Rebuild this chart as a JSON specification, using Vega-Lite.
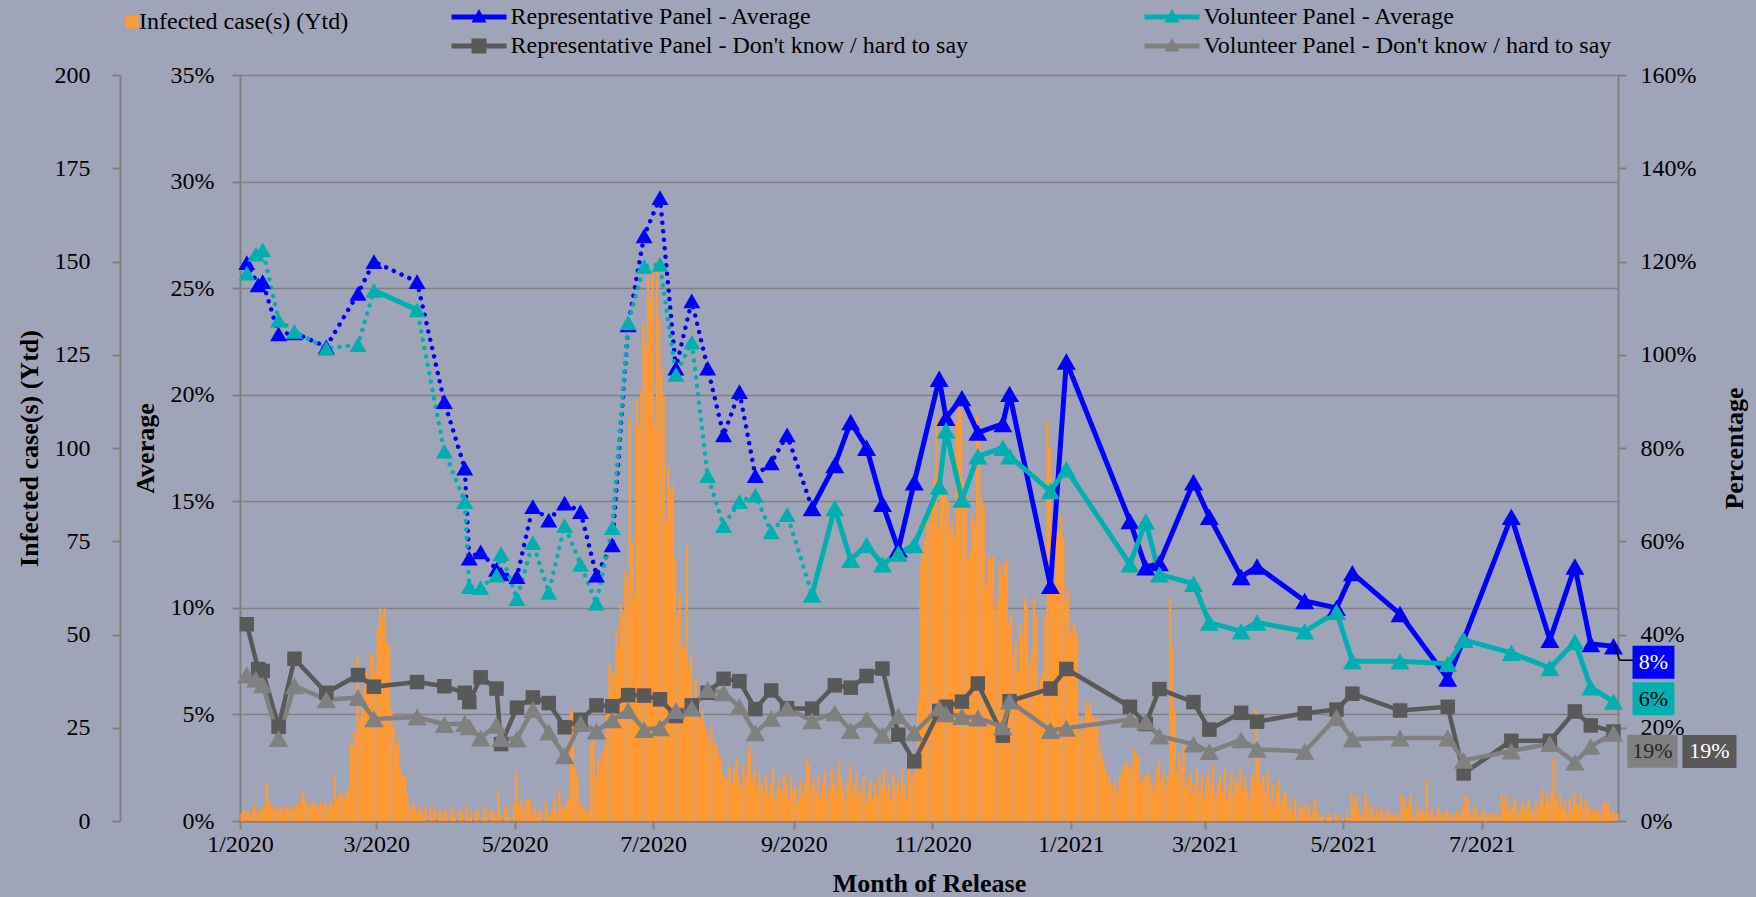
{
"$schema": "https://vega.github.io/schema/vega-lite/v6.json",
"width": 1378,
"height": 746,
"autosize": {"type": "none"},
"padding": {"left": 240, "top": 75, "right": 138, "bottom": 76},
"background": "#A0A4B8",
"config": {
  "view": {"stroke": null},
  "font": "Liberation Serif",
  "axis": {"labelFont": "Liberation Serif", "titleFont": "Liberation Serif", "labelFontSize": 24, "titleFontSize": 26, "labelColor": "#000000", "titleColor": "#000000", "domainColor": "#808080", "domainWidth": 2, "tickColor": "#808080", "tickWidth": 2, "tickSize": 8, "grid": false},
  "legend": {"labelFont": "Liberation Serif", "labelFontSize": 24, "labelColor": "#000000", "padding": 0, "offset": 0}
},
"datasets": {
"cases": [
{"d":"2020-01-01","c":2},{"d":"2020-01-02","c":3},{"d":"2020-01-03","c":2},{"d":"2020-01-04","c":3},{"d":"2020-01-05","c":1},{"d":"2020-01-06","c":3},{"d":"2020-01-07","c":4},{"d":"2020-01-08","c":2},{"d":"2020-01-09","c":3},{"d":"2020-01-10","c":4},{"d":"2020-01-11","c":3},{"d":"2020-01-12","c":10},{"d":"2020-01-13","c":6},{"d":"2020-01-14","c":4},{"d":"2020-01-15","c":4},{"d":"2020-01-16","c":3},{"d":"2020-01-17","c":3},{"d":"2020-01-18","c":4},{"d":"2020-01-19","c":2},{"d":"2020-01-20","c":3},{"d":"2020-01-21","c":4},{"d":"2020-01-22","c":3},{"d":"2020-01-23","c":4},{"d":"2020-01-24","c":3},{"d":"2020-01-25","c":5},{"d":"2020-01-26","c":4},{"d":"2020-01-27","c":5},{"d":"2020-01-28","c":8},{"d":"2020-01-29","c":6},{"d":"2020-01-30","c":4},{"d":"2020-01-31","c":5},
{"d":"2020-02-01","c":4},{"d":"2020-02-02","c":5},{"d":"2020-02-03","c":3},{"d":"2020-02-04","c":4},{"d":"2020-02-05","c":5},{"d":"2020-02-06","c":4},{"d":"2020-02-07","c":5},{"d":"2020-02-08","c":3},{"d":"2020-02-09","c":5},{"d":"2020-02-10","c":4},{"d":"2020-02-11","c":12},{"d":"2020-02-12","c":6},{"d":"2020-02-13","c":7},{"d":"2020-02-14","c":8},{"d":"2020-02-15","c":6},{"d":"2020-02-16","c":7},{"d":"2020-02-17","c":9},{"d":"2020-02-18","c":21},{"d":"2020-02-19","c":20},{"d":"2020-02-20","c":24},{"d":"2020-02-21","c":44},{"d":"2020-02-22","c":27},{"d":"2020-02-23","c":30},{"d":"2020-02-24","c":36},{"d":"2020-02-25","c":40},{"d":"2020-02-26","c":38},{"d":"2020-02-27","c":45},{"d":"2020-02-28","c":44},{"d":"2020-02-29","c":40},
{"d":"2020-03-01","c":52},{"d":"2020-03-02","c":57},{"d":"2020-03-03","c":55},{"d":"2020-03-04","c":57},{"d":"2020-03-05","c":48},{"d":"2020-03-06","c":47},{"d":"2020-03-07","c":30},{"d":"2020-03-08","c":25},{"d":"2020-03-09","c":20},{"d":"2020-03-10","c":22},{"d":"2020-03-11","c":14},{"d":"2020-03-12","c":12},{"d":"2020-03-13","c":12},{"d":"2020-03-14","c":7},{"d":"2020-03-15","c":4},{"d":"2020-03-16","c":3},{"d":"2020-03-17","c":5},{"d":"2020-03-18","c":2},{"d":"2020-03-19","c":4},{"d":"2020-03-20","c":3},{"d":"2020-03-21","c":2},{"d":"2020-03-22","c":4},{"d":"2020-03-23","c":0},{"d":"2020-03-24","c":3},{"d":"2020-03-25","c":2},{"d":"2020-03-26","c":4},{"d":"2020-03-27","c":0},{"d":"2020-03-28","c":3},{"d":"2020-03-29","c":2},{"d":"2020-03-30","c":1},{"d":"2020-03-31","c":3},
{"d":"2020-04-01","c":0},{"d":"2020-04-02","c":2},{"d":"2020-04-03","c":4},{"d":"2020-04-04","c":1},{"d":"2020-04-05","c":0},{"d":"2020-04-06","c":3},{"d":"2020-04-07","c":2},{"d":"2020-04-08","c":0},{"d":"2020-04-09","c":4},{"d":"2020-04-10","c":1},{"d":"2020-04-11","c":3},{"d":"2020-04-12","c":0},{"d":"2020-04-13","c":2},{"d":"2020-04-14","c":3},{"d":"2020-04-15","c":0},{"d":"2020-04-16","c":1},{"d":"2020-04-17","c":4},{"d":"2020-04-18","c":2},{"d":"2020-04-19","c":0},{"d":"2020-04-20","c":3},{"d":"2020-04-21","c":2},{"d":"2020-04-22","c":1},{"d":"2020-04-23","c":8},{"d":"2020-04-24","c":2},{"d":"2020-04-25","c":0},{"d":"2020-04-26","c":3},{"d":"2020-04-27","c":4},{"d":"2020-04-28","c":1},{"d":"2020-04-29","c":0},{"d":"2020-04-30","c":5},
{"d":"2020-05-01","c":13},{"d":"2020-05-02","c":4},{"d":"2020-05-03","c":6},{"d":"2020-05-04","c":3},{"d":"2020-05-05","c":5},{"d":"2020-05-06","c":6},{"d":"2020-05-07","c":6},{"d":"2020-05-08","c":2},{"d":"2020-05-09","c":4},{"d":"2020-05-10","c":1},{"d":"2020-05-11","c":3},{"d":"2020-05-12","c":2},{"d":"2020-05-13","c":0},{"d":"2020-05-14","c":5},{"d":"2020-05-15","c":2},{"d":"2020-05-16","c":1},{"d":"2020-05-17","c":3},{"d":"2020-05-18","c":6},{"d":"2020-05-19","c":2},{"d":"2020-05-20","c":8},{"d":"2020-05-21","c":4},{"d":"2020-05-22","c":3},{"d":"2020-05-23","c":5},{"d":"2020-05-24","c":6},{"d":"2020-05-25","c":29},{"d":"2020-05-26","c":30},{"d":"2020-05-27","c":14},{"d":"2020-05-28","c":12},{"d":"2020-05-29","c":5},{"d":"2020-05-30","c":3},{"d":"2020-05-31","c":4},
{"d":"2020-06-01","c":2},{"d":"2020-06-02","c":3},{"d":"2020-06-03","c":21},{"d":"2020-06-04","c":22},{"d":"2020-06-05","c":12},{"d":"2020-06-06","c":17},{"d":"2020-06-07","c":15},{"d":"2020-06-08","c":18},{"d":"2020-06-09","c":20},{"d":"2020-06-10","c":29},{"d":"2020-06-11","c":42},{"d":"2020-06-12","c":40},{"d":"2020-06-13","c":39},{"d":"2020-06-14","c":52},{"d":"2020-06-15","c":47},{"d":"2020-06-16","c":58},{"d":"2020-06-17","c":55},{"d":"2020-06-18","c":67},{"d":"2020-06-19","c":65},{"d":"2020-06-20","c":108},{"d":"2020-06-21","c":75},{"d":"2020-06-22","c":60},{"d":"2020-06-23","c":113},{"d":"2020-06-24","c":106},{"d":"2020-06-25","c":115},{"d":"2020-06-26","c":133},{"d":"2020-06-27","c":128},{"d":"2020-06-28","c":146},{"d":"2020-06-29","c":140},{"d":"2020-06-30","c":148},
{"d":"2020-07-01","c":106},{"d":"2020-07-02","c":148},{"d":"2020-07-03","c":135},{"d":"2020-07-04","c":121},{"d":"2020-07-05","c":114},{"d":"2020-07-06","c":80},{"d":"2020-07-07","c":95},{"d":"2020-07-08","c":89},{"d":"2020-07-09","c":90},{"d":"2020-07-10","c":70},{"d":"2020-07-11","c":55},{"d":"2020-07-12","c":61},{"d":"2020-07-13","c":47},{"d":"2020-07-14","c":46},{"d":"2020-07-15","c":74},{"d":"2020-07-16","c":41},{"d":"2020-07-17","c":44},{"d":"2020-07-18","c":32},{"d":"2020-07-19","c":38},{"d":"2020-07-20","c":32},{"d":"2020-07-21","c":27},{"d":"2020-07-22","c":30},{"d":"2020-07-23","c":26},{"d":"2020-07-24","c":24},{"d":"2020-07-25","c":22},{"d":"2020-07-26","c":25},{"d":"2020-07-27","c":20},{"d":"2020-07-28","c":21},{"d":"2020-07-29","c":18},{"d":"2020-07-30","c":17},{"d":"2020-07-31","c":13},
{"d":"2020-08-01","c":11},{"d":"2020-08-02","c":12},{"d":"2020-08-03","c":15},{"d":"2020-08-04","c":10},{"d":"2020-08-05","c":14},{"d":"2020-08-06","c":17},{"d":"2020-08-07","c":12},{"d":"2020-08-08","c":9},{"d":"2020-08-09","c":15},{"d":"2020-08-10","c":12},{"d":"2020-08-11","c":18},{"d":"2020-08-12","c":20},{"d":"2020-08-13","c":11},{"d":"2020-08-14","c":14},{"d":"2020-08-15","c":9},{"d":"2020-08-16","c":13},{"d":"2020-08-17","c":10},{"d":"2020-08-18","c":8},{"d":"2020-08-19","c":12},{"d":"2020-08-20","c":7},{"d":"2020-08-21","c":10},{"d":"2020-08-22","c":14},{"d":"2020-08-23","c":6},{"d":"2020-08-24","c":9},{"d":"2020-08-25","c":11},{"d":"2020-08-26","c":8},{"d":"2020-08-27","c":13},{"d":"2020-08-28","c":10},{"d":"2020-08-29","c":6},{"d":"2020-08-30","c":12},{"d":"2020-08-31","c":8},
{"d":"2020-09-01","c":9},{"d":"2020-09-02","c":5},{"d":"2020-09-03","c":11},{"d":"2020-09-04","c":7},{"d":"2020-09-05","c":10},{"d":"2020-09-06","c":17},{"d":"2020-09-07","c":15},{"d":"2020-09-08","c":9},{"d":"2020-09-09","c":11},{"d":"2020-09-10","c":8},{"d":"2020-09-11","c":12},{"d":"2020-09-12","c":6},{"d":"2020-09-13","c":10},{"d":"2020-09-14","c":13},{"d":"2020-09-15","c":7},{"d":"2020-09-16","c":9},{"d":"2020-09-17","c":14},{"d":"2020-09-18","c":10},{"d":"2020-09-19","c":8},{"d":"2020-09-20","c":16},{"d":"2020-09-21","c":12},{"d":"2020-09-22","c":9},{"d":"2020-09-23","c":6},{"d":"2020-09-24","c":11},{"d":"2020-09-25","c":15},{"d":"2020-09-26","c":8},{"d":"2020-09-27","c":10},{"d":"2020-09-28","c":13},{"d":"2020-09-29","c":7},{"d":"2020-09-30","c":9},
{"d":"2020-10-01","c":12},{"d":"2020-10-02","c":5},{"d":"2020-10-03","c":8},{"d":"2020-10-04","c":11},{"d":"2020-10-05","c":6},{"d":"2020-10-06","c":10},{"d":"2020-10-07","c":7},{"d":"2020-10-08","c":12},{"d":"2020-10-09","c":9},{"d":"2020-10-10","c":14},{"d":"2020-10-11","c":8},{"d":"2020-10-12","c":10},{"d":"2020-10-13","c":6},{"d":"2020-10-14","c":13},{"d":"2020-10-15","c":9},{"d":"2020-10-16","c":11},{"d":"2020-10-17","c":8},{"d":"2020-10-18","c":14},{"d":"2020-10-19","c":10},{"d":"2020-10-20","c":6},{"d":"2020-10-21","c":15},{"d":"2020-10-22","c":12},{"d":"2020-10-23","c":13},{"d":"2020-10-24","c":16},{"d":"2020-10-25","c":32},{"d":"2020-10-26","c":69},{"d":"2020-10-27","c":73},{"d":"2020-10-28","c":75},{"d":"2020-10-29","c":82},{"d":"2020-10-30","c":80},{"d":"2020-10-31","c":84},
{"d":"2020-11-01","c":92},{"d":"2020-11-02","c":108},{"d":"2020-11-03","c":78},{"d":"2020-11-04","c":90},{"d":"2020-11-05","c":87},{"d":"2020-11-06","c":88},{"d":"2020-11-07","c":86},{"d":"2020-11-08","c":78},{"d":"2020-11-09","c":80},{"d":"2020-11-10","c":76},{"d":"2020-11-11","c":107},{"d":"2020-11-12","c":112},{"d":"2020-11-13","c":110},{"d":"2020-11-14","c":91},{"d":"2020-11-15","c":88},{"d":"2020-11-16","c":70},{"d":"2020-11-17","c":72},{"d":"2020-11-18","c":82},{"d":"2020-11-19","c":80},{"d":"2020-11-20","c":109},{"d":"2020-11-21","c":105},{"d":"2020-11-22","c":86},{"d":"2020-11-23","c":84},{"d":"2020-11-24","c":63},{"d":"2020-11-25","c":71},{"d":"2020-11-26","c":70},{"d":"2020-11-27","c":71},{"d":"2020-11-28","c":57},{"d":"2020-11-29","c":60},{"d":"2020-11-30","c":69},
{"d":"2020-12-01","c":66},{"d":"2020-12-02","c":69},{"d":"2020-12-03","c":70},{"d":"2020-12-04","c":53},{"d":"2020-12-05","c":55},{"d":"2020-12-06","c":44},{"d":"2020-12-07","c":48},{"d":"2020-12-08","c":40},{"d":"2020-12-09","c":53},{"d":"2020-12-10","c":50},{"d":"2020-12-11","c":60},{"d":"2020-12-12","c":58},{"d":"2020-12-13","c":42},{"d":"2020-12-14","c":45},{"d":"2020-12-15","c":60},{"d":"2020-12-16","c":55},{"d":"2020-12-17","c":35},{"d":"2020-12-18","c":38},{"d":"2020-12-19","c":40},{"d":"2020-12-20","c":55},{"d":"2020-12-21","c":107},{"d":"2020-12-22","c":100},{"d":"2020-12-23","c":62},{"d":"2020-12-24","c":64},{"d":"2020-12-25","c":82},{"d":"2020-12-26","c":78},{"d":"2020-12-27","c":82},{"d":"2020-12-28","c":76},{"d":"2020-12-29","c":60},{"d":"2020-12-30","c":62},{"d":"2020-12-31","c":50},
{"d":"2021-01-01","c":52},{"d":"2021-01-02","c":53},{"d":"2021-01-03","c":50},{"d":"2021-01-04","c":24},{"d":"2021-01-05","c":28},{"d":"2021-01-06","c":24},{"d":"2021-01-07","c":32},{"d":"2021-01-08","c":30},{"d":"2021-01-09","c":32},{"d":"2021-01-10","c":28},{"d":"2021-01-11","c":26},{"d":"2021-01-12","c":28},{"d":"2021-01-13","c":19},{"d":"2021-01-14","c":17},{"d":"2021-01-15","c":15},{"d":"2021-01-16","c":13},{"d":"2021-01-17","c":12},{"d":"2021-01-18","c":10},{"d":"2021-01-19","c":9},{"d":"2021-01-20","c":11},{"d":"2021-01-21","c":8},{"d":"2021-01-22","c":12},{"d":"2021-01-23","c":14},{"d":"2021-01-24","c":15},{"d":"2021-01-25","c":16},{"d":"2021-01-26","c":14},{"d":"2021-01-27","c":15},{"d":"2021-01-28","c":19},{"d":"2021-01-29","c":18},{"d":"2021-01-30","c":17},{"d":"2021-01-31","c":10},
{"d":"2021-02-01","c":11},{"d":"2021-02-02","c":12},{"d":"2021-02-03","c":13},{"d":"2021-02-04","c":12},{"d":"2021-02-05","c":10},{"d":"2021-02-06","c":8},{"d":"2021-02-07","c":14},{"d":"2021-02-08","c":16},{"d":"2021-02-09","c":11},{"d":"2021-02-10","c":13},{"d":"2021-02-11","c":9},{"d":"2021-02-12","c":12},{"d":"2021-02-13","c":60},{"d":"2021-02-14","c":47},{"d":"2021-02-15","c":30},{"d":"2021-02-16","c":13},{"d":"2021-02-17","c":18},{"d":"2021-02-18","c":15},{"d":"2021-02-19","c":20},{"d":"2021-02-20","c":9},{"d":"2021-02-21","c":11},{"d":"2021-02-22","c":13},{"d":"2021-02-23","c":7},{"d":"2021-02-24","c":10},{"d":"2021-02-25","c":14},{"d":"2021-02-26","c":8},{"d":"2021-02-27","c":12},{"d":"2021-02-28","c":6},
{"d":"2021-03-01","c":11},{"d":"2021-03-02","c":13},{"d":"2021-03-03","c":9},{"d":"2021-03-04","c":15},{"d":"2021-03-05","c":7},{"d":"2021-03-06","c":10},{"d":"2021-03-07","c":12},{"d":"2021-03-08","c":8},{"d":"2021-03-09","c":14},{"d":"2021-03-10","c":6},{"d":"2021-03-11","c":9},{"d":"2021-03-12","c":13},{"d":"2021-03-13","c":7},{"d":"2021-03-14","c":11},{"d":"2021-03-15","c":10},{"d":"2021-03-16","c":14},{"d":"2021-03-17","c":8},{"d":"2021-03-18","c":12},{"d":"2021-03-19","c":9},{"d":"2021-03-20","c":6},{"d":"2021-03-21","c":13},{"d":"2021-03-22","c":11},{"d":"2021-03-23","c":30},{"d":"2021-03-24","c":18},{"d":"2021-03-25","c":10},{"d":"2021-03-26","c":12},{"d":"2021-03-27","c":8},{"d":"2021-03-28","c":13},{"d":"2021-03-29","c":6},{"d":"2021-03-30","c":10},{"d":"2021-03-31","c":4},
{"d":"2021-04-01","c":9},{"d":"2021-04-02","c":11},{"d":"2021-04-03","c":5},{"d":"2021-04-04","c":7},{"d":"2021-04-05","c":8},{"d":"2021-04-06","c":3},{"d":"2021-04-07","c":5},{"d":"2021-04-08","c":2},{"d":"2021-04-09","c":6},{"d":"2021-04-10","c":1},{"d":"2021-04-11","c":4},{"d":"2021-04-12","c":3},{"d":"2021-04-13","c":5},{"d":"2021-04-14","c":2},{"d":"2021-04-15","c":4},{"d":"2021-04-16","c":1},{"d":"2021-04-17","c":3},{"d":"2021-04-18","c":6},{"d":"2021-04-19","c":2},{"d":"2021-04-20","c":1},{"d":"2021-04-21","c":2},{"d":"2021-04-22","c":0},{"d":"2021-04-23","c":1},{"d":"2021-04-24","c":2},{"d":"2021-04-25","c":1},{"d":"2021-04-26","c":0},{"d":"2021-04-27","c":2},{"d":"2021-04-28","c":1},{"d":"2021-04-29","c":0},{"d":"2021-04-30","c":1},
{"d":"2021-05-01","c":0},{"d":"2021-05-02","c":2},{"d":"2021-05-03","c":1},{"d":"2021-05-04","c":7},{"d":"2021-05-05","c":5},{"d":"2021-05-06","c":7},{"d":"2021-05-07","c":3},{"d":"2021-05-08","c":2},{"d":"2021-05-09","c":1},{"d":"2021-05-10","c":7},{"d":"2021-05-11","c":5},{"d":"2021-05-12","c":2},{"d":"2021-05-13","c":4},{"d":"2021-05-14","c":1},{"d":"2021-05-15","c":3},{"d":"2021-05-16","c":2},{"d":"2021-05-17","c":4},{"d":"2021-05-18","c":1},{"d":"2021-05-19","c":2},{"d":"2021-05-20","c":3},{"d":"2021-05-21","c":1},{"d":"2021-05-22","c":2},{"d":"2021-05-23","c":1},{"d":"2021-05-24","c":2},{"d":"2021-05-25","c":1},{"d":"2021-05-26","c":7},{"d":"2021-05-27","c":6},{"d":"2021-05-28","c":3},{"d":"2021-05-29","c":5},{"d":"2021-05-30","c":7},{"d":"2021-05-31","c":2},
{"d":"2021-06-01","c":1},{"d":"2021-06-02","c":4},{"d":"2021-06-03","c":2},{"d":"2021-06-04","c":3},{"d":"2021-06-05","c":2},{"d":"2021-06-06","c":11},{"d":"2021-06-07","c":1},{"d":"2021-06-08","c":3},{"d":"2021-06-09","c":2},{"d":"2021-06-10","c":1},{"d":"2021-06-11","c":4},{"d":"2021-06-12","c":2},{"d":"2021-06-13","c":1},{"d":"2021-06-14","c":2},{"d":"2021-06-15","c":3},{"d":"2021-06-16","c":1},{"d":"2021-06-17","c":2},{"d":"2021-06-18","c":1},{"d":"2021-06-19","c":3},{"d":"2021-06-20","c":2},{"d":"2021-06-21","c":1},{"d":"2021-06-22","c":4},{"d":"2021-06-23","c":7},{"d":"2021-06-24","c":6},{"d":"2021-06-25","c":2},{"d":"2021-06-26","c":1},{"d":"2021-06-27","c":4},{"d":"2021-06-28","c":3},{"d":"2021-06-29","c":1},{"d":"2021-06-30","c":2},
{"d":"2021-07-01","c":3},{"d":"2021-07-02","c":1},{"d":"2021-07-03","c":2},{"d":"2021-07-04","c":1},{"d":"2021-07-05","c":2},{"d":"2021-07-06","c":1},{"d":"2021-07-07","c":2},{"d":"2021-07-08","c":1},{"d":"2021-07-09","c":7},{"d":"2021-07-10","c":5},{"d":"2021-07-11","c":7},{"d":"2021-07-12","c":3},{"d":"2021-07-13","c":2},{"d":"2021-07-14","c":4},{"d":"2021-07-15","c":6},{"d":"2021-07-16","c":2},{"d":"2021-07-17","c":3},{"d":"2021-07-18","c":5},{"d":"2021-07-19","c":2},{"d":"2021-07-20","c":4},{"d":"2021-07-21","c":6},{"d":"2021-07-22","c":3},{"d":"2021-07-23","c":2},{"d":"2021-07-24","c":5},{"d":"2021-07-25","c":3},{"d":"2021-07-26","c":6},{"d":"2021-07-27","c":9},{"d":"2021-07-28","c":4},{"d":"2021-07-29","c":7},{"d":"2021-07-30","c":5},{"d":"2021-07-31","c":8},
{"d":"2021-08-01","c":17},{"d":"2021-08-02","c":6},{"d":"2021-08-03","c":4},{"d":"2021-08-04","c":7},{"d":"2021-08-05","c":3},{"d":"2021-08-06","c":5},{"d":"2021-08-07","c":2},{"d":"2021-08-08","c":6},{"d":"2021-08-09","c":3},{"d":"2021-08-10","c":8},{"d":"2021-08-11","c":5},{"d":"2021-08-12","c":4},{"d":"2021-08-13","c":7},{"d":"2021-08-14","c":3},{"d":"2021-08-15","c":6},{"d":"2021-08-16","c":4},{"d":"2021-08-17","c":2},{"d":"2021-08-18","c":3},{"d":"2021-08-19","c":4},{"d":"2021-08-20","c":2},{"d":"2021-08-21","c":3},{"d":"2021-08-22","c":2},{"d":"2021-08-23","c":5},{"d":"2021-08-24","c":4},{"d":"2021-08-25","c":5},{"d":"2021-08-26","c":2},{"d":"2021-08-27","c":3},{"d":"2021-08-28","c":1},{"d":"2021-08-29","c":2}
],
"avg": [
{"s":"RA","date":"2020-01-04","v":0.262},{"s":"RA","date":"2020-01-09","v":0.2515},{"s":"RA","date":"2020-01-11","v":0.253},{"s":"RA","date":"2020-01-18","v":0.2285},{"s":"RA","date":"2020-01-25","v":0.229},{"s":"RA","date":"2020-02-08","v":0.2225},{"s":"RA","date":"2020-02-22","v":0.2476},{"s":"RA","date":"2020-02-29","v":0.2624},{"s":"RA","date":"2020-03-19","v":0.253},{"s":"RA","date":"2020-03-31","v":0.1967},{"s":"RA","date":"2020-04-09","v":0.1655},{"s":"RA","date":"2020-04-11","v":0.1233},{"s":"RA","date":"2020-04-16","v":0.1263},{"s":"RA","date":"2020-04-23","v":0.118},{"s":"RA","date":"2020-04-25","v":0.116},{"s":"RA","date":"2020-05-02","v":0.1146},{"s":"RA","date":"2020-05-09","v":0.1475},{"s":"RA","date":"2020-05-16","v":0.1412},{"s":"RA","date":"2020-05-23","v":0.1491},{"s":"RA","date":"2020-05-30","v":0.1451},{"s":"RA","date":"2020-06-06","v":0.1154},{"s":"RA","date":"2020-06-13","v":0.1295},{"s":"RA","date":"2020-06-20","v":0.2328},{"s":"RA","date":"2020-06-27","v":0.2745},{"s":"RA","date":"2020-07-04","v":0.2925},{"s":"RA","date":"2020-07-11","v":0.2125},{"s":"RA","date":"2020-07-18","v":0.244},{"s":"RA","date":"2020-07-25","v":0.2125},{"s":"RA","date":"2020-08-01","v":0.1811},{"s":"RA","date":"2020-08-08","v":0.2014},{"s":"RA","date":"2020-08-15","v":0.162},{"s":"RA","date":"2020-08-22","v":0.168},{"s":"RA","date":"2020-08-29","v":0.1811},{"s":"RA","date":"2020-09-09","v":0.1468},{"s":"RA","date":"2020-09-19","v":0.167},{"s":"RA","date":"2020-09-26","v":0.1872},{"s":"RA","date":"2020-10-03","v":0.1751},{"s":"RA","date":"2020-10-10","v":0.1488},{"s":"RA","date":"2020-10-17","v":0.1275},{"s":"RA","date":"2020-10-24","v":0.1589},{"s":"RA","date":"2020-11-04","v":0.2075},{"s":"RA","date":"2020-11-07","v":0.1892},{"s":"RA","date":"2020-11-14","v":0.1984},{"s":"RA","date":"2020-11-21","v":0.1822},{"s":"RA","date":"2020-12-02","v":0.1863},{"s":"RA","date":"2020-12-05","v":0.2004},{"s":"RA","date":"2020-12-23","v":0.1103},{"s":"RA","date":"2020-12-30","v":0.2156},{"s":"RA","date":"2021-01-27","v":0.1407},{"s":"RA","date":"2021-02-03","v":0.119},{"s":"RA","date":"2021-02-09","v":0.121},{"s":"RA","date":"2021-02-24","v":0.1589},{"s":"RA","date":"2021-03-03","v":0.1427},{"s":"RA","date":"2021-03-17","v":0.1145},{"s":"RA","date":"2021-03-24","v":0.1194},{"s":"RA","date":"2021-04-14","v":0.1032},{"s":"RA","date":"2021-04-28","v":0.1},{"s":"RA","date":"2021-05-05","v":0.1163},{"s":"RA","date":"2021-05-26","v":0.0971},{"s":"RA","date":"2021-06-16","v":0.0668},{"s":"RA","date":"2021-06-23","v":0.085},{"s":"RA","date":"2021-07-14","v":0.1427},{"s":"RA","date":"2021-07-31","v":0.085},{"s":"RA","date":"2021-08-11","v":0.1194},{"s":"RA","date":"2021-08-18","v":0.083},{"s":"RA","date":"2021-08-28","v":0.082},
{"s":"VA","date":"2020-01-04","v":0.257},{"s":"VA","date":"2020-01-08","v":0.266},{"s":"VA","date":"2020-01-11","v":0.268},{"s":"VA","date":"2020-01-18","v":0.235},{"s":"VA","date":"2020-01-25","v":0.2297},{"s":"VA","date":"2020-02-08","v":0.2217},{"s":"VA","date":"2020-02-22","v":0.2235},{"s":"VA","date":"2020-02-29","v":0.249},{"s":"VA","date":"2020-03-19","v":0.2398},{"s":"VA","date":"2020-03-31","v":0.1735},{"s":"VA","date":"2020-04-09","v":0.1498},{"s":"VA","date":"2020-04-11","v":0.11},{"s":"VA","date":"2020-04-16","v":0.1095},{"s":"VA","date":"2020-04-23","v":0.1154},{"s":"VA","date":"2020-04-25","v":0.1255},{"s":"VA","date":"2020-05-02","v":0.1043},{"s":"VA","date":"2020-05-09","v":0.1306},{"s":"VA","date":"2020-05-16","v":0.1073},{"s":"VA","date":"2020-05-23","v":0.1386},{"s":"VA","date":"2020-05-30","v":0.1204},{"s":"VA","date":"2020-06-06","v":0.1022},{"s":"VA","date":"2020-06-13","v":0.1376},{"s":"VA","date":"2020-06-20","v":0.2338},{"s":"VA","date":"2020-06-27","v":0.2602},{"s":"VA","date":"2020-07-04","v":0.2611},{"s":"VA","date":"2020-07-11","v":0.2095},{"s":"VA","date":"2020-07-18","v":0.2247},{"s":"VA","date":"2020-07-25","v":0.162},{"s":"VA","date":"2020-08-01","v":0.1386},{"s":"VA","date":"2020-08-08","v":0.1498},{"s":"VA","date":"2020-08-15","v":0.1528},{"s":"VA","date":"2020-08-22","v":0.1356},{"s":"VA","date":"2020-08-29","v":0.1437},{"s":"VA","date":"2020-09-09","v":0.1063},{"s":"VA","date":"2020-09-19","v":0.1468},{"s":"VA","date":"2020-09-26","v":0.1225},{"s":"VA","date":"2020-10-03","v":0.1295},{"s":"VA","date":"2020-10-10","v":0.1204},{"s":"VA","date":"2020-10-17","v":0.1255},{"s":"VA","date":"2020-10-24","v":0.1295},{"s":"VA","date":"2020-11-04","v":0.1569},{"s":"VA","date":"2020-11-07","v":0.1832},{"s":"VA","date":"2020-11-14","v":0.1508},{"s":"VA","date":"2020-11-21","v":0.1711},{"s":"VA","date":"2020-12-02","v":0.1751},{"s":"VA","date":"2020-12-05","v":0.1711},{"s":"VA","date":"2020-12-23","v":0.1548},{"s":"VA","date":"2020-12-30","v":0.165},{"s":"VA","date":"2021-01-27","v":0.1204},{"s":"VA","date":"2021-02-03","v":0.1405},{"s":"VA","date":"2021-02-09","v":0.1157},{"s":"VA","date":"2021-02-24","v":0.1113},{"s":"VA","date":"2021-03-03","v":0.0931},{"s":"VA","date":"2021-03-17","v":0.089},{"s":"VA","date":"2021-03-24","v":0.0931},{"s":"VA","date":"2021-04-14","v":0.089},{"s":"VA","date":"2021-04-28","v":0.0981},{"s":"VA","date":"2021-05-05","v":0.0749},{"s":"VA","date":"2021-05-26","v":0.0749},{"s":"VA","date":"2021-06-16","v":0.0738},{"s":"VA","date":"2021-06-23","v":0.085},{"s":"VA","date":"2021-07-14","v":0.0789},{"s":"VA","date":"2021-07-31","v":0.0718},{"s":"VA","date":"2021-08-11","v":0.084},{"s":"VA","date":"2021-08-18","v":0.0627},{"s":"VA","date":"2021-08-28","v":0.056}
],
"dk": [
{"s":"RD","date":"2020-01-04","v":0.422},{"s":"RD","date":"2020-01-09","v":0.326},{"s":"RD","date":"2020-01-11","v":0.322},{"s":"RD","date":"2020-01-18","v":0.202},{"s":"RD","date":"2020-01-25","v":0.348},{"s":"RD","date":"2020-02-08","v":0.275},{"s":"RD","date":"2020-02-22","v":0.313},{"s":"RD","date":"2020-02-29","v":0.288},{"s":"RD","date":"2020-03-19","v":0.298},{"s":"RD","date":"2020-03-31","v":0.289},{"s":"RD","date":"2020-04-09","v":0.275},{"s":"RD","date":"2020-04-11","v":0.255},{"s":"RD","date":"2020-04-16","v":0.308},{"s":"RD","date":"2020-04-23","v":0.284},{"s":"RD","date":"2020-04-25","v":0.165},{"s":"RD","date":"2020-05-02","v":0.243},{"s":"RD","date":"2020-05-09","v":0.265},{"s":"RD","date":"2020-05-16","v":0.253},{"s":"RD","date":"2020-05-23","v":0.201},{"s":"RD","date":"2020-05-30","v":0.217},{"s":"RD","date":"2020-06-06","v":0.248},{"s":"RD","date":"2020-06-13","v":0.246},{"s":"RD","date":"2020-06-20","v":0.27},{"s":"RD","date":"2020-06-27","v":0.269},{"s":"RD","date":"2020-07-04","v":0.261},{"s":"RD","date":"2020-07-11","v":0.225},{"s":"RD","date":"2020-07-18","v":0.248},{"s":"RD","date":"2020-07-25","v":0.275},{"s":"RD","date":"2020-08-01","v":0.305},{"s":"RD","date":"2020-08-08","v":0.3},{"s":"RD","date":"2020-08-15","v":0.24},{"s":"RD","date":"2020-08-22","v":0.28},{"s":"RD","date":"2020-08-29","v":0.242},{"s":"RD","date":"2020-09-09","v":0.241},{"s":"RD","date":"2020-09-19","v":0.291},{"s":"RD","date":"2020-09-26","v":0.286},{"s":"RD","date":"2020-10-03","v":0.311},{"s":"RD","date":"2020-10-10","v":0.327},{"s":"RD","date":"2020-10-17","v":0.185},{"s":"RD","date":"2020-10-24","v":0.128},{"s":"RD","date":"2020-11-04","v":0.236},{"s":"RD","date":"2020-11-07","v":0.245},{"s":"RD","date":"2020-11-14","v":0.256},{"s":"RD","date":"2020-11-21","v":0.295},{"s":"RD","date":"2020-12-02","v":0.183},{"s":"RD","date":"2020-12-05","v":0.257},{"s":"RD","date":"2020-12-23","v":0.284},{"s":"RD","date":"2020-12-30","v":0.326},{"s":"RD","date":"2021-01-27","v":0.245},{"s":"RD","date":"2021-02-03","v":0.208},{"s":"RD","date":"2021-02-09","v":0.283},{"s":"RD","date":"2021-02-24","v":0.255},{"s":"RD","date":"2021-03-03","v":0.196},{"s":"RD","date":"2021-03-17","v":0.232},{"s":"RD","date":"2021-03-24","v":0.213},{"s":"RD","date":"2021-04-14","v":0.231},{"s":"RD","date":"2021-04-28","v":0.239},{"s":"RD","date":"2021-05-05","v":0.273},{"s":"RD","date":"2021-05-26","v":0.237},{"s":"RD","date":"2021-06-16","v":0.245},{"s":"RD","date":"2021-06-23","v":0.102},{"s":"RD","date":"2021-07-14","v":0.172},{"s":"RD","date":"2021-07-31","v":0.172},{"s":"RD","date":"2021-08-11","v":0.235},{"s":"RD","date":"2021-08-18","v":0.205},{"s":"RD","date":"2021-08-28","v":0.192},
{"s":"VD","date":"2020-01-04","v":0.313},{"s":"VD","date":"2020-01-08","v":0.304},{"s":"VD","date":"2020-01-11","v":0.292},{"s":"VD","date":"2020-01-18","v":0.177},{"s":"VD","date":"2020-01-25","v":0.29},{"s":"VD","date":"2020-02-08","v":0.26},{"s":"VD","date":"2020-02-22","v":0.265},{"s":"VD","date":"2020-02-29","v":0.219},{"s":"VD","date":"2020-03-19","v":0.223},{"s":"VD","date":"2020-03-31","v":0.207},{"s":"VD","date":"2020-04-09","v":0.209},{"s":"VD","date":"2020-04-11","v":0.202},{"s":"VD","date":"2020-04-16","v":0.178},{"s":"VD","date":"2020-04-23","v":0.206},{"s":"VD","date":"2020-04-25","v":0.177},{"s":"VD","date":"2020-05-02","v":0.176},{"s":"VD","date":"2020-05-09","v":0.239},{"s":"VD","date":"2020-05-16","v":0.191},{"s":"VD","date":"2020-05-23","v":0.14},{"s":"VD","date":"2020-05-30","v":0.209},{"s":"VD","date":"2020-06-06","v":0.193},{"s":"VD","date":"2020-06-13","v":0.217},{"s":"VD","date":"2020-06-20","v":0.237},{"s":"VD","date":"2020-06-27","v":0.196},{"s":"VD","date":"2020-07-04","v":0.2},{"s":"VD","date":"2020-07-11","v":0.237},{"s":"VD","date":"2020-07-18","v":0.242},{"s":"VD","date":"2020-07-25","v":0.282},{"s":"VD","date":"2020-08-01","v":0.275},{"s":"VD","date":"2020-08-08","v":0.245},{"s":"VD","date":"2020-08-15","v":0.189},{"s":"VD","date":"2020-08-22","v":0.22},{"s":"VD","date":"2020-08-29","v":0.242},{"s":"VD","date":"2020-09-09","v":0.215},{"s":"VD","date":"2020-09-19","v":0.232},{"s":"VD","date":"2020-09-26","v":0.194},{"s":"VD","date":"2020-10-03","v":0.218},{"s":"VD","date":"2020-10-10","v":0.184},{"s":"VD","date":"2020-10-17","v":0.226},{"s":"VD","date":"2020-10-24","v":0.189},{"s":"VD","date":"2020-11-04","v":0.242},{"s":"VD","date":"2020-11-07","v":0.23},{"s":"VD","date":"2020-11-14","v":0.224},{"s":"VD","date":"2020-11-21","v":0.221},{"s":"VD","date":"2020-12-02","v":0.202},{"s":"VD","date":"2020-12-05","v":0.257},{"s":"VD","date":"2020-12-23","v":0.194},{"s":"VD","date":"2020-12-30","v":0.199},{"s":"VD","date":"2021-01-27","v":0.218},{"s":"VD","date":"2021-02-03","v":0.213},{"s":"VD","date":"2021-02-09","v":0.182},{"s":"VD","date":"2021-02-24","v":0.165},{"s":"VD","date":"2021-03-03","v":0.149},{"s":"VD","date":"2021-03-17","v":0.174},{"s":"VD","date":"2021-03-24","v":0.154},{"s":"VD","date":"2021-04-14","v":0.149},{"s":"VD","date":"2021-04-28","v":0.222},{"s":"VD","date":"2021-05-05","v":0.176},{"s":"VD","date":"2021-05-26","v":0.178},{"s":"VD","date":"2021-06-16","v":0.178},{"s":"VD","date":"2021-06-23","v":0.13},{"s":"VD","date":"2021-07-14","v":0.15},{"s":"VD","date":"2021-07-31","v":0.166},{"s":"VD","date":"2021-08-11","v":0.126},{"s":"VD","date":"2021-08-18","v":0.16},{"s":"VD","date":"2021-08-28","v":0.188}
]
},
"layer": [
{
  "data": {"name": "cases"},
  "mark": {"type": "bar", "binSpacing": 0},
  "encoding": {
    "x": {"field": "d", "type": "temporal", "timeUnit": "utcyearmonthdate", "scale": {"type": "utc", "domain": [{"year": 2020, "month": 1, "date": 1, "utc": true}, {"year": 2021, "month": 8, "date": 30, "utc": true}]}, "axis": {"title": "Month of Release", "tickCount": {"interval": "month", "step": 2}, "labelExpr": "utcFormat(datum.value, '%-m/%Y')", "labelFlush": false, "labelPadding": 3, "titlePadding": 14, "titleFontWeight": "bold", "grid": false}},
    "y": {"field": "c", "type": "quantitative", "scale": {"domain": [0, 200]}, "axis": {"orient": "left", "offset": 120, "values": [0,25,50,75,100,125,150,175,200], "title": "Infected case(s) (Ytd)", "titleFontWeight": "bold", "titlePadding": 12, "labelPadding": 22, "grid": false}},
    "fill": {"datum": "Infected case(s) (Ytd)", "type": "nominal", "scale": {"range": ["#FF9933"]}, "legend": {"orient": "none", "legendX": -120, "legendY": -65, "title": null, "symbolType": "square", "symbolSize": 169, "symbolStrokeWidth": 0, "labelOffset": -5, "labelLimit": 400}}
  }
},
{
  "data": {"name": "avg"},
  "encoding": {
    "x": {"field": "date", "type": "temporal", "scale": {"type": "utc", "domain": [{"year": 2020, "month": 1, "date": 1, "utc": true}, {"year": 2021, "month": 8, "date": 30, "utc": true}]}, "axis": {"title": "Month of Release", "tickCount": {"interval": "month", "step": 2}, "labelExpr": "utcFormat(datum.value, '%-m/%Y')", "labelFlush": false, "labelPadding": 3, "titlePadding": 14, "titleFontWeight": "bold", "grid": false}},
    "y": {"field": "v", "type": "quantitative", "scale": {"domain": [0, 0.35]}, "axis": {"orient": "left", "values": [0,0.05,0.1,0.15,0.2,0.25,0.3,0.35], "format": ".0%", "title": "Average", "titleFontWeight": "bold", "titlePadding": 12, "labelPadding": 18, "grid": true, "gridColor": "#808080", "gridWidth": 1.5}}
  },
  "layer": [
    {"transform": [{"filter": {"field": "date", "lte": {"year": 2020, "month": 9, "date": 9, "utc": true}}}],
     "mark": {"type": "line", "strokeWidth": 4.5, "strokeDash": [0.01, 8.5], "strokeCap": "round", "strokeJoin": "round"},
     "encoding": {"color": {"field": "s", "type": "nominal", "scale": {"domain": ["RA","VA","RD","VD"], "range": ["#0000FF","#00B0B0","#595959","#808080"]}, "legend": {"orient": "none", "direction": "horizontal", "legendX": 227, "legendY": -70, "title": null, "columns": 2, "columnPadding": 175, "rowPadding": 5, "symbolType": "M-2.75,-0.25H2.75V0.25H-2.75Z M0,-0.8L0.75,0.55H-0.75Z", "symbolSize": 400, "symbolStrokeWidth": 0, "labelOffset": 19.5, "labelLimit": 700, "labelExpr": "datum.label == 'RA' ? 'Representative Panel - Average' : datum.label == 'VA' ? 'Volunteer Panel - Average' : datum.label == 'RD' ? \"Representative Panel - Don't know / hard to say\" : \"Volunteer Panel - Don't know / hard to say\"", "encode": {"symbols": {"update": {"shape": {"signal": "datum.value == 'RD' ? 'M-2.75,-0.25H2.75V0.25H-2.75Z M-0.75,-0.75H0.75V0.75H-0.75Z' : 'M-2.75,-0.25H2.75V0.25H-2.75Z M0,-0.8L0.75,0.55H-0.75Z'"}, "fill": {"scale": "color", "field": "value"}, "fillOpacity": {"value": 1}, "opacity": {"value": 1}, "strokeWidth": {"value": 0}}}}}}}},
    {"transform": [{"filter": {"field": "date", "gte": {"year": 2020, "month": 9, "date": 9, "utc": true}}}],
     "mark": {"type": "line", "strokeWidth": 5, "strokeJoin": "round"},
     "encoding": {"color": {"field": "s", "type": "nominal", "scale": {"domain": ["RA","VA","RD","VD"], "range": ["#0000FF","#00B0B0","#595959","#808080"]}, "legend": {"orient": "none", "direction": "horizontal", "legendX": 227, "legendY": -70, "title": null, "columns": 2, "columnPadding": 175, "rowPadding": 5, "symbolType": "M-2.75,-0.25H2.75V0.25H-2.75Z M0,-0.8L0.75,0.55H-0.75Z", "symbolSize": 400, "symbolStrokeWidth": 0, "labelOffset": 19.5, "labelLimit": 700, "labelExpr": "datum.label == 'RA' ? 'Representative Panel - Average' : datum.label == 'VA' ? 'Volunteer Panel - Average' : datum.label == 'RD' ? \"Representative Panel - Don't know / hard to say\" : \"Volunteer Panel - Don't know / hard to say\"", "encode": {"symbols": {"update": {"shape": {"signal": "datum.value == 'RD' ? 'M-2.75,-0.25H2.75V0.25H-2.75Z M-0.75,-0.75H0.75V0.75H-0.75Z' : 'M-2.75,-0.25H2.75V0.25H-2.75Z M0,-0.8L0.75,0.55H-0.75Z'"}, "fill": {"scale": "color", "field": "value"}, "fillOpacity": {"value": 1}, "opacity": {"value": 1}, "strokeWidth": {"value": 0}}}}}}}},
    {"transform": [{"filter": {"and": [{"field": "s", "equal": "VA"}, {"field": "date", "range": [{"year": 2020, "month": 2, "date": 29, "utc": true}, {"year": 2020, "month": 3, "date": 19, "utc": true}]}]}}],
     "mark": {"type": "line", "strokeWidth": 5, "color": "#00B0B0"}},
    {"transform": [{"filter": {"field": "date", "lt": {"year": 2020, "month": 9, "date": 9, "utc": true}}}],
     "mark": {"type": "point", "shape": "triangle-up", "filled": true, "opacity": 1, "size": 290},
     "encoding": {"color": {"field": "s", "type": "nominal", "scale": {"domain": ["RA","VA","RD","VD"], "range": ["#0000FF","#00B0B0","#595959","#808080"]}, "legend": {"orient": "none", "direction": "horizontal", "legendX": 227, "legendY": -70, "title": null, "columns": 2, "columnPadding": 175, "rowPadding": 5, "symbolType": "M-2.75,-0.25H2.75V0.25H-2.75Z M0,-0.8L0.75,0.55H-0.75Z", "symbolSize": 400, "symbolStrokeWidth": 0, "labelOffset": 19.5, "labelLimit": 700, "labelExpr": "datum.label == 'RA' ? 'Representative Panel - Average' : datum.label == 'VA' ? 'Volunteer Panel - Average' : datum.label == 'RD' ? \"Representative Panel - Don't know / hard to say\" : \"Volunteer Panel - Don't know / hard to say\"", "encode": {"symbols": {"update": {"shape": {"signal": "datum.value == 'RD' ? 'M-2.75,-0.25H2.75V0.25H-2.75Z M-0.75,-0.75H0.75V0.75H-0.75Z' : 'M-2.75,-0.25H2.75V0.25H-2.75Z M0,-0.8L0.75,0.55H-0.75Z'"}, "fill": {"scale": "color", "field": "value"}, "fillOpacity": {"value": 1}, "opacity": {"value": 1}, "strokeWidth": {"value": 0}}}}}}}},
    {"transform": [{"filter": {"field": "date", "gte": {"year": 2020, "month": 9, "date": 9, "utc": true}}}],
     "mark": {"type": "point", "shape": "triangle-up", "filled": true, "opacity": 1, "size": 360},
     "encoding": {"color": {"field": "s", "type": "nominal", "scale": {"domain": ["RA","VA","RD","VD"], "range": ["#0000FF","#00B0B0","#595959","#808080"]}, "legend": {"orient": "none", "direction": "horizontal", "legendX": 227, "legendY": -70, "title": null, "columns": 2, "columnPadding": 175, "rowPadding": 5, "symbolType": "M-2.75,-0.25H2.75V0.25H-2.75Z M0,-0.8L0.75,0.55H-0.75Z", "symbolSize": 400, "symbolStrokeWidth": 0, "labelOffset": 19.5, "labelLimit": 700, "labelExpr": "datum.label == 'RA' ? 'Representative Panel - Average' : datum.label == 'VA' ? 'Volunteer Panel - Average' : datum.label == 'RD' ? \"Representative Panel - Don't know / hard to say\" : \"Volunteer Panel - Don't know / hard to say\"", "encode": {"symbols": {"update": {"shape": {"signal": "datum.value == 'RD' ? 'M-2.75,-0.25H2.75V0.25H-2.75Z M-0.75,-0.75H0.75V0.75H-0.75Z' : 'M-2.75,-0.25H2.75V0.25H-2.75Z M0,-0.8L0.75,0.55H-0.75Z'"}, "fill": {"scale": "color", "field": "value"}, "fillOpacity": {"value": 1}, "opacity": {"value": 1}, "strokeWidth": {"value": 0}}}}}}}},
    {"transform": [{"filter": {"and": [{"field": "s", "equal": "RA"}, {"field": "date", "gte": {"year": 2021, "month": 8, "date": 28, "utc": true}}]}}],
     "mark": {"type": "rule", "color": "#000000", "strokeWidth": 1.5, "xOffset": 1, "yOffset": -2, "x2Offset": 6, "y2Offset": 14},
     "encoding": {"x2": {"field": "date"}, "y2": {"field": "v"}}},
    {"transform": [{"filter": {"and": [{"field": "s", "equal": "RA"}, {"field": "date", "gte": {"year": 2021, "month": 8, "date": 28, "utc": true}}]}}],
     "mark": {"type": "rule", "color": "#000000", "strokeWidth": 1.5, "xOffset": 6, "yOffset": 14, "x2Offset": 20, "y2Offset": 14},
     "encoding": {"x2": {"field": "date"}, "y2": {"field": "v"}}},
    {"transform": [{"filter": {"and": [{"field": "s", "equal": "RA"}, {"field": "date", "gte": {"year": 2021, "month": 8, "date": 28, "utc": true}}]}}],
     "mark": {"type": "point", "shape": "M-1.27,-1H1.27V1H-1.27Z", "size": 1089, "filled": true, "opacity": 1, "color": "#0000FF", "xOffset": 40, "yOffset": 16}},
    {"transform": [{"filter": {"and": [{"field": "s", "equal": "RA"}, {"field": "date", "gte": {"year": 2021, "month": 8, "date": 28, "utc": true}}]}}],
     "mark": {"type": "text", "font": "Liberation Serif", "fontSize": 22, "color": "#FFFFFF", "dx": 40, "dy": 16, "align": "center", "baseline": "middle"},
     "encoding": {"text": {"field": "v", "type": "quantitative", "format": ".0%"}}},
    {"transform": [{"filter": {"and": [{"field": "s", "equal": "VA"}, {"field": "date", "gte": {"year": 2021, "month": 8, "date": 28, "utc": true}}]}}],
     "mark": {"type": "point", "shape": "M-1.27,-1H1.27V1H-1.27Z", "size": 1089, "filled": true, "opacity": 1, "color": "#00B0B0", "xOffset": 40, "yOffset": -3}},
    {"transform": [{"filter": {"and": [{"field": "s", "equal": "VA"}, {"field": "date", "gte": {"year": 2021, "month": 8, "date": 28, "utc": true}}]}}],
     "mark": {"type": "text", "font": "Liberation Serif", "fontSize": 22, "color": "#000000", "dx": 40, "dy": -3, "align": "center", "baseline": "middle"},
     "encoding": {"text": {"field": "v", "type": "quantitative", "format": ".0%"}}}
  ]
},
{
  "data": {"name": "dk"},
  "encoding": {
    "x": {"field": "date", "type": "temporal", "scale": {"type": "utc", "domain": [{"year": 2020, "month": 1, "date": 1, "utc": true}, {"year": 2021, "month": 8, "date": 30, "utc": true}]}, "axis": {"title": "Month of Release", "tickCount": {"interval": "month", "step": 2}, "labelExpr": "utcFormat(datum.value, '%-m/%Y')", "labelFlush": false, "labelPadding": 3, "titlePadding": 14, "titleFontWeight": "bold", "grid": false}},
    "y": {"field": "v", "type": "quantitative", "scale": {"domain": [0, 1.6]}, "axis": {"orient": "right", "values": [0,0.2,0.4,0.6,0.8,1,1.2,1.4,1.6], "format": ".0%", "title": "Percentage", "titleAngle": 270, "titleBaseline": "top", "titleFontWeight": "bold", "titlePadding": 26, "labelPadding": 14, "grid": false}}
  },
  "layer": [
    {"mark": {"type": "line", "strokeWidth": 4.5, "strokeJoin": "round"},
     "encoding": {"color": {"field": "s", "type": "nominal", "scale": {"domain": ["RA","VA","RD","VD"], "range": ["#0000FF","#00B0B0","#595959","#808080"]}, "legend": {"orient": "none", "direction": "horizontal", "legendX": 227, "legendY": -70, "title": null, "columns": 2, "columnPadding": 175, "rowPadding": 5, "symbolType": "M-2.75,-0.25H2.75V0.25H-2.75Z M0,-0.8L0.75,0.55H-0.75Z", "symbolSize": 400, "symbolStrokeWidth": 0, "labelOffset": 19.5, "labelLimit": 700, "labelExpr": "datum.label == 'RA' ? 'Representative Panel - Average' : datum.label == 'VA' ? 'Volunteer Panel - Average' : datum.label == 'RD' ? \"Representative Panel - Don't know / hard to say\" : \"Volunteer Panel - Don't know / hard to say\"", "encode": {"symbols": {"update": {"shape": {"signal": "datum.value == 'RD' ? 'M-2.75,-0.25H2.75V0.25H-2.75Z M-0.75,-0.75H0.75V0.75H-0.75Z' : 'M-2.75,-0.25H2.75V0.25H-2.75Z M0,-0.8L0.75,0.55H-0.75Z'"}, "fill": {"scale": "color", "field": "value"}, "fillOpacity": {"value": 1}, "opacity": {"value": 1}, "strokeWidth": {"value": 0}}}}}}}},
    {"transform": [{"filter": {"field": "s", "equal": "RD"}}],
     "mark": {"type": "point", "shape": "square", "filled": true, "opacity": 1, "size": 210, "color": "#595959"}},
    {"transform": [{"filter": {"field": "s", "equal": "VD"}}],
     "mark": {"type": "point", "shape": "triangle-up", "filled": true, "opacity": 1, "size": 380, "color": "#808080"}},
    {"transform": [{"filter": {"and": [{"field": "s", "equal": "VD"}, {"field": "date", "gte": {"year": 2021, "month": 8, "date": 28, "utc": true}}]}}],
     "mark": {"type": "point", "shape": "M-1.52,-1H1.52V1H-1.52Z", "size": 1089, "filled": true, "opacity": 1, "color": "#808080", "xOffset": 39, "yOffset": 18}},
    {"transform": [{"filter": {"and": [{"field": "s", "equal": "VD"}, {"field": "date", "gte": {"year": 2021, "month": 8, "date": 28, "utc": true}}]}}],
     "mark": {"type": "text", "font": "Liberation Serif", "fontSize": 22, "color": "#262626", "dx": 39, "dy": 18, "align": "center", "baseline": "middle"},
     "encoding": {"text": {"field": "v", "type": "quantitative", "format": ".0%"}}},
    {"transform": [{"filter": {"and": [{"field": "s", "equal": "RD"}, {"field": "date", "gte": {"year": 2021, "month": 8, "date": 28, "utc": true}}]}}],
     "mark": {"type": "point", "shape": "M-1.64,-1H1.64V1H-1.64Z", "size": 1089, "filled": true, "opacity": 1, "color": "#595959", "xOffset": 96, "yOffset": 20}},
    {"transform": [{"filter": {"and": [{"field": "s", "equal": "RD"}, {"field": "date", "gte": {"year": 2021, "month": 8, "date": 28, "utc": true}}]}}],
     "mark": {"type": "text", "font": "Liberation Serif", "fontSize": 22, "color": "#FFFFFF", "dx": 96, "dy": 20, "align": "center", "baseline": "middle"},
     "encoding": {"text": {"field": "v", "type": "quantitative", "format": ".0%"}}}
  ]
}
],
"resolve": {"scale": {"y": "independent"}}
}
